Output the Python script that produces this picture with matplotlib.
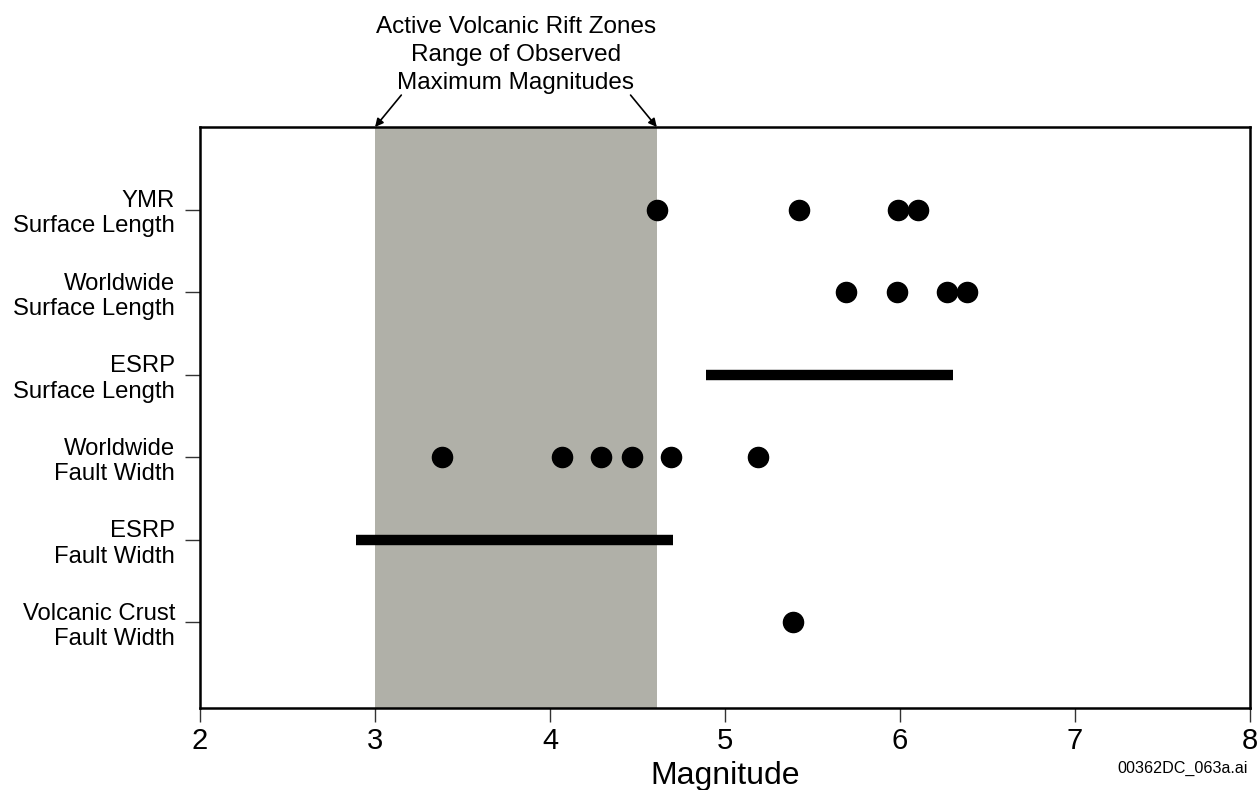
import matplotlib
matplotlib.use('Agg')
import matplotlib.pyplot as plt

plt.rcParams['font.family'] = ['Liberation Sans', 'DejaVu Sans']

# 类别（自上而下）
categories = ['YMR\nSurface Length', 'Worldwide\nSurface Length', 'ESRP\nSurface Length',
              'Worldwide\nFault Width', 'ESRP\nFault Width', 'Volcanic Crust\nFault Width']

# 点数据：类别序号 -> 震级
ymr_surface = [4.61, 5.42, 5.99, 6.10]
world_surface = [5.69, 5.98, 6.27, 6.38]
world_width = [3.38, 4.07, 4.29, 4.47, 4.69, 5.19]
volcanic_width = [5.39]

# 范围数据（横条）
esrp_surface_range = [4.89, 6.30]
esrp_width_range = [2.89, 4.70]

# 阴影区：活动火山裂谷带最大震级范围
rift_range = [3.0, 4.61]

fig = plt.figure(figsize=(12.59, 7.90), dpi=100)
ax = fig.add_axes([0.1589, 0.1038, 0.834, 0.7354])

ax.axvspan(rift_range[0], rift_range[1], color='#b0b0a8', lw=0, zorder=0)

point_sets = [(1, ymr_surface), (2, world_surface), (4, world_width), (6, volcanic_width)]
for yi, vals in point_sets:
    ax.plot(vals, [yi] * len(vals), 'o', color='black', markersize=14.5, zorder=3)

for yi, rng in [(3, esrp_surface_range), (5, esrp_width_range)]:
    ax.plot(rng, [yi, yi], color='black', lw=7.5, solid_capstyle='butt', zorder=3)

ax.set_xlim(2, 8)
ax.set_ylim(7.04, 0)
ax.set_xticks(range(2, 9))
ax.set_yticks(range(1, 7))
ax.set_yticklabels(categories, fontsize=17.2, ha='right', multialignment='right')
ax.tick_params(axis='y', length=11, width=1, pad=7, color='#333333')
ax.tick_params(axis='x', length=10, width=1, pad=4, labelsize=21, color='#333333')
# 标签整体略高于刻度
for lbl in ax.get_yticklabels():
    lbl.set_va('center_baseline')
for s in ax.spines.values():
    s.set_linewidth(1.8)

ax.set_xlabel('Magnitude', fontsize=23, labelpad=4)

# 顶部标注
ax.text((rift_range[0] + rift_range[1]) / 2, 1.056,
        'Active Volcanic Rift Zones\nRange of Observed\nMaximum Magnitudes',
        transform=ax.get_xaxis_transform(), ha='center', va='bottom',
        fontsize=17.5, linespacing=1.38)
arrow_kw = dict(arrowstyle='-|>', color='black', lw=1.2, mutation_scale=12, shrinkA=0, shrinkB=0)
ax.annotate('', xy=(rift_range[0], 1.0), xycoords=('data', 'axes fraction'),
            xytext=(3.15, 1.055), textcoords=('data', 'axes fraction'), arrowprops=arrow_kw)
ax.annotate('', xy=(rift_range[1], 1.0), xycoords=('data', 'axes fraction'),
            xytext=(4.46, 1.055), textcoords=('data', 'axes fraction'), arrowprops=arrow_kw)

fig.text(0.9395, 0.027, '00362DC_063a.ai', ha='center', va='center', fontsize=11.6)

plt.savefig('out.png', dpi=100)
plt.close()
